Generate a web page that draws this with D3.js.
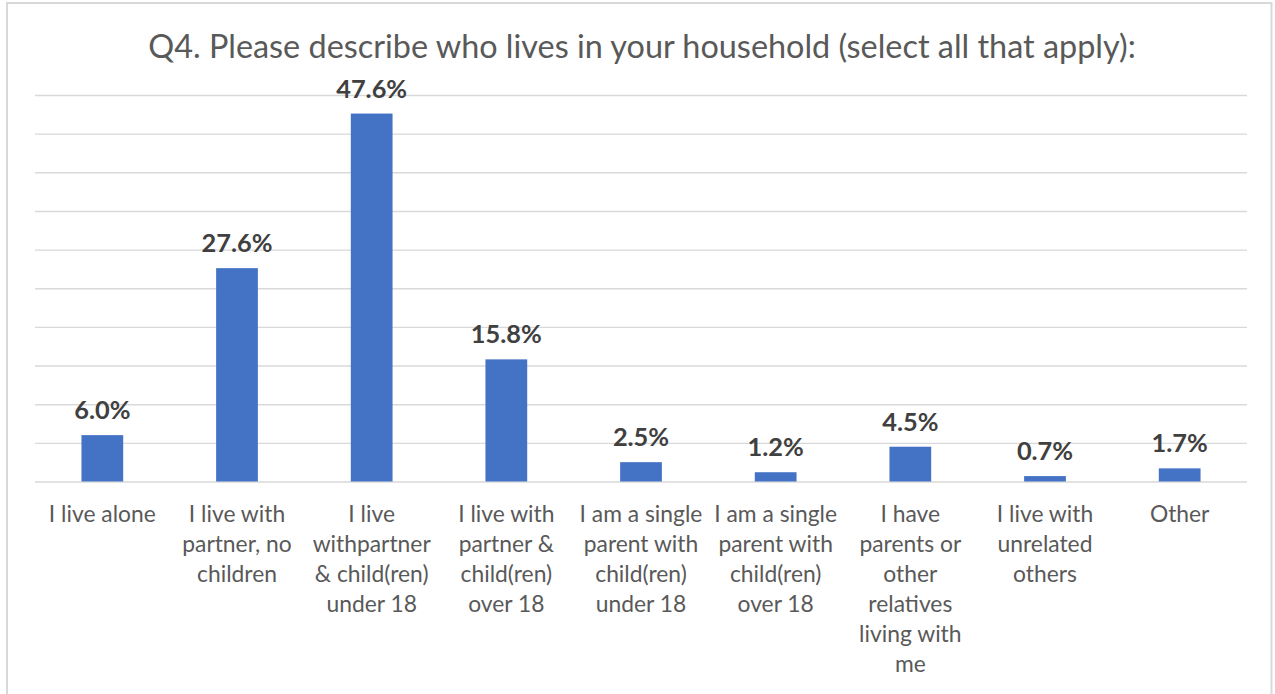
<!DOCTYPE html>
<html>
<head>
<meta charset="utf-8">
<script src="https://cdn.jsdelivr.net/npm/d3@7"></script>
<style>
  html, body { margin: 0; padding: 0; background: #ffffff; }
  svg { display: block; }
</style>
</head>
<body>
<svg id="chart" width="1275" height="694"></svg>
<script>
// Household composition survey results (percent of respondents)
const categories = [
  "I live alone",
  "I live with\npartner, no\nchildren",
  "I live\nwithpartner\n& child(ren)\nunder 18",
  "I live with\npartner &\nchild(ren)\nover 18",
  "I am a single\nparent with\nchild(ren)\nunder 18",
  "I am a single\nparent with\nchild(ren)\nover 18",
  "I have\nparents or\nother\nrelatives\nliving with\nme",
  "I live with\nunrelated\nothers",
  "Other"
];
const values = [6.0, 27.6, 47.6, 15.8, 2.5, 1.2, 4.5, 0.7, 1.7];
const gridTicks = [0, 5, 10, 15, 20, 25, 30, 35, 40, 45, 50];
const titleText = "Q4. Please describe who lives in your household (select all that apply):";

const W = 1275, H = 694;
const plot = { left: 35, right: 1247, top: 95, bottom: 481.5 };
const FONT = "Lato, 'Open Sans', sans-serif";

const svg = d3.select("#chart");

// chart frame
svg.append("rect")
  .attr("x", 7).attr("y", 3)
  .attr("width", 1264.5).attr("height", H + 20)
  .attr("fill", "#ffffff")
  .attr("stroke", "#d9d9d9")
  .attr("stroke-width", 2);

const x = d3.scaleBand()
  .domain(categories)
  .range([plot.left, plot.right])
  .paddingInner(0.69)
  .paddingOuter(0.345);

const y = d3.scaleLinear()
  .domain([0, 50])
  .range([plot.bottom, plot.top]);

// horizontal gridlines
const gridAxis = d3.axisLeft(y)
  .tickValues(gridTicks)
  .tickSize(-(plot.right - plot.left))
  .tickFormat("");
const g = svg.append("g")
  .attr("transform", `translate(${plot.left},0)`)
  .call(gridAxis);
g.select(".domain").remove();
g.selectAll(".tick line")
  .attr("stroke", "#d9d9d9")
  .attr("stroke-width", 1.4);

// bars
svg.append("g").selectAll("rect")
  .data(values)
  .join("rect")
  .attr("x", (d, i) => x(categories[i]))
  .attr("y", d => y(d))
  .attr("width", x.bandwidth())
  .attr("height", d => y(0) - y(d))
  .attr("fill", "#4472c4");

// helper: scale a text element's font so its rendered width equals target
function fitFont(sel, baseSize, sampleNode, targetWidth) {
  const w = sampleNode.getComputedTextLength();
  const size = baseSize * targetWidth / w;
  sel.attr("font-size", size);
  return size;
}

// title
const title = svg.append("text")
  .attr("x", 642)
  .attr("y", 58)
  .attr("text-anchor", "middle")
  .attr("font-family", FONT)
  .attr("font-size", 28)
  .attr("fill", "#595959")
  .text(titleText);
fitFont(title, 28, title.node(), 988);

// value labels
const valueLabels = svg.append("g").selectAll("text")
  .data(values)
  .join("text")
  .attr("x", (d, i) => x(categories[i]) + x.bandwidth() / 2)
  .attr("y", d => y(d) - 16)
  .attr("text-anchor", "middle")
  .attr("font-family", FONT)
  .attr("font-weight", "bold")
  .attr("font-size", 20)
  .attr("fill", "#404040")
  .text(d => d.toFixed(1) + "%");
fitFont(valueLabels, 20, valueLabels.nodes()[2], 71);

// category labels (multi-line)
const catLabels = svg.append("g").selectAll("text")
  .data(categories)
  .join("text")
  .attr("x", d => x(d) + x.bandwidth() / 2)
  .attr("y", 522)
  .attr("text-anchor", "middle")
  .attr("font-family", FONT)
  .attr("font-size", 20)
  .attr("fill", "#595959");
catLabels.each(function(d) {
  const t = d3.select(this);
  d.split("\n").forEach((line, k) => {
    t.append("tspan")
      .attr("x", x(d) + x.bandwidth() / 2)
      .attr("y", 522 + k * 30)
      .text(line);
  });
});
fitFont(catLabels, 20, catLabels.nodes()[0].firstChild, 107);
</script>
</body>
</html>
